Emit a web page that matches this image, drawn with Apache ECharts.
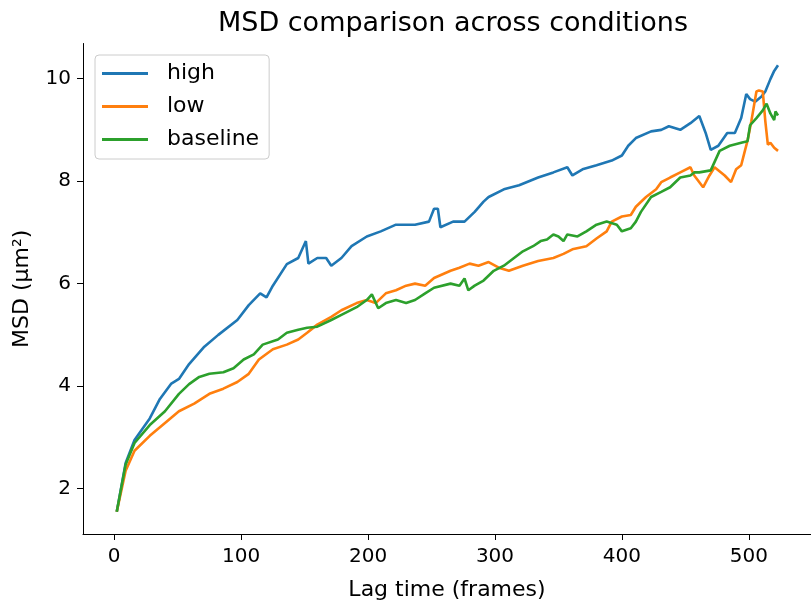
<!DOCTYPE html>
<html><head><meta charset="utf-8">
<script src="https://cdn.jsdelivr.net/npm/echarts@6/dist/echarts.min.js"></script>
<style>html,body{margin:0;padding:0;background:#fff}#c{width:811px;height:606px}</style>
</head><body><div id="c"></div>
<script>
const title = 'MSD comparison across conditions';
const xName = 'Lag time (frames)';
const yName = 'MSD (μm²)';
const xTicks = [0, 100, 200, 300, 400, 500];
const yTicks = [2, 4, 6, 8, 10];

const highLag = [2,9,16,28,36,45,51,59,71,82,97,106,115,120,125,136,145,151,153,160,167,171,179,187,199,210,222,237,248,252,255,257,267,276,284,291,295,307,319,334,346,357,361,369,380,392,400,405,411,423,431,437,446,454,461,466,470,476,483,489,494,498,501,505,510,513,517,520,523];
const highMSD = [1.55,2.5,2.95,3.37,3.75,4.05,4.14,4.43,4.77,5.0,5.29,5.58,5.81,5.73,5.96,6.38,6.5,6.83,6.39,6.5,6.5,6.35,6.5,6.73,6.92,7.02,7.15,7.15,7.21,7.46,7.46,7.1,7.21,7.21,7.4,7.6,7.69,7.84,7.92,8.07,8.17,8.27,8.11,8.23,8.31,8.4,8.5,8.69,8.84,8.97,9.0,9.07,9.0,9.13,9.27,8.94,8.61,8.69,8.94,8.94,9.23,9.7,9.6,9.55,9.65,9.75,9.99,10.15,10.26];

const lowLag = [2,9,16,28,40,51,63,75,86,97,106,114,125,136,145,152,160,171,179,191,199,206,214,222,230,237,245,252,265,272,280,287,295,303,311,322,334,346,354,361,372,380,388,392,400,407,411,419,427,431,438,446,454,457,464,469,473,481,486,490,494,497,499,502,506,508,511,513,515,517,520,523];
const lowMSD = [1.55,2.35,2.74,3.03,3.28,3.51,3.66,3.85,3.95,4.08,4.24,4.52,4.72,4.81,4.91,5.04,5.2,5.35,5.48,5.62,5.68,5.62,5.81,5.87,5.96,6.0,5.96,6.11,6.25,6.31,6.39,6.35,6.42,6.31,6.25,6.35,6.44,6.5,6.58,6.67,6.73,6.88,7.02,7.21,7.31,7.34,7.5,7.69,7.84,7.98,8.07,8.17,8.27,8.11,7.88,8.11,8.27,8.11,7.98,8.23,8.31,8.6,8.79,9.17,9.75,9.77,9.75,9.17,8.71,8.75,8.65,8.59];

const baseLag = [2,9,16,28,40,51,59,67,75,86,94,102,110,117,129,136,145,152,160,171,179,191,199,203,208,214,222,230,237,245,252,265,272,276,279,284,291,299,307,315,322,330,336,341,346,350,354,357,365,372,380,388,396,400,407,411,415,423,431,438,446,454,457,461,470,477,485,494,499,501,506,511,514,517,520,521,523];
const baseMSD = [1.55,2.47,2.89,3.24,3.51,3.85,4.04,4.18,4.24,4.27,4.35,4.52,4.62,4.81,4.91,5.04,5.1,5.14,5.16,5.29,5.39,5.54,5.68,5.79,5.52,5.62,5.68,5.62,5.68,5.81,5.92,6.0,5.96,6.1,5.87,5.96,6.06,6.25,6.35,6.5,6.63,6.73,6.83,6.86,6.96,6.92,6.83,6.96,6.92,7.02,7.15,7.21,7.15,7.02,7.08,7.21,7.4,7.69,7.79,7.88,8.07,8.11,8.17,8.17,8.21,8.59,8.69,8.75,8.78,9.09,9.23,9.38,9.51,9.32,9.19,9.36,9.28];

const names = ['high', 'low', 'baseline'];
const colors = ['#1f77b4', '#ff7f0e', '#2ca02c'];
const pairs = (xs, ys) => xs.map((x, i) => [x, ys[i]]);
const seriesData = [pairs(highLag, highMSD), pairs(lowLag, lowMSD), pairs(baseLag, baseMSD)];

const font = 'DejaVu Sans';
const chart = echarts.init(document.getElementById('c'), null, {renderer: 'canvas'});
chart.setOption({
  animation: false,
  backgroundColor: '#fff',
  title: {
    text: title, left: 448, top: 5, textAlign: 'center',
    textStyle: {fontFamily: font, fontSize: 27, fontWeight: 'normal', color: '#000'}
  },
  legend: {
    orient: 'vertical', left: 95, top: 55,
    data: names,
    icon: 'rect', itemWidth: 46, itemHeight: 3, itemGap: 10,
    backgroundColor: 'rgba(255,255,255,0.8)', borderColor: '#cccccc', borderWidth: 1, borderRadius: 4,
    padding: [7, 10, 8, 7],
    textStyle: {fontFamily: font, fontSize: 22, lineHeight: 23, color: '#000', padding: [0, 0, 0, 14]}
  },
  grid: {left: 83, top: 43.5, width: 745.7, height: 498.5, containLabel: false},
  xAxis: {
    type: 'value', min: -24.6, max: 549,
    name: xName, nameLocation: 'middle', nameGap: 45,
    nameTextStyle: {fontFamily: font, fontSize: 22, color: '#000'},
    axisLine: {show: true, onZero: false, lineStyle: {color: '#000', width: 1}},
    axisTick: {show: true, customValues: xTicks, length: 6, lineStyle: {color: '#000'}},
    axisLabel: {customValues: xTicks, fontFamily: font, fontSize: 20, color: '#000', margin: 13},
    splitLine: {show: false}
  },
  yAxis: {
    type: 'value', min: 1.115, max: 10.685,
    name: yName, nameLocation: 'middle', nameGap: 50, nameRotate: 90,
    nameTextStyle: {fontFamily: font, fontSize: 22, color: '#000'},
    axisLine: {show: true, onZero: false, lineStyle: {color: '#000', width: 1}},
    axisTick: {show: true, customValues: yTicks, length: 6, lineStyle: {color: '#000'}},
    axisLabel: {customValues: yTicks, fontFamily: font, fontSize: 20, color: '#000', margin: 12},
    splitLine: {show: false}
  },
  series: names.map((n, i) => ({
    name: n, type: 'line', data: seriesData[i], showSymbol: false, symbol: 'none',
    lineStyle: {color: colors[i], width: 2.6}, itemStyle: {color: colors[i]},
    clip: true, z: 2 + i
  }))
});
</script></body></html>
